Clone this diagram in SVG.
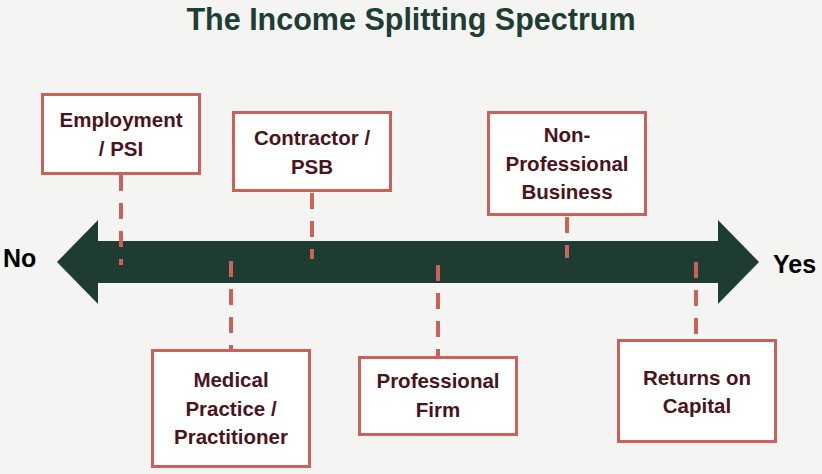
<svg xmlns="http://www.w3.org/2000/svg" width="822" height="474" viewBox="0 0 822 474">
<style>
.box{fill:#ffffff;stroke:#C8625A;stroke-width:3}
.lbl{font-family:"Liberation Sans",Arial,sans-serif;font-weight:bold;font-size:20.5px;fill:#4A141C;text-anchor:middle}
.conn{stroke:#C8625A;stroke-width:4;stroke-dasharray:16 12;fill:none}
.end{font-family:"Liberation Sans",Arial,sans-serif;font-weight:bold;font-size:25px;fill:#000000}
</style>
<rect x="0" y="0" width="822" height="474" fill="#F4F4F2"/>
<text x="411" y="30" text-anchor="middle" font-family="'Liberation Sans',Arial,sans-serif" font-weight="bold" font-size="30.5" fill="#1E3D33">The Income Splitting Spectrum</text>
<g id="spectrum-arrow">
<polygon points="57,262 98,220 98,241 718,241 718,220 759,262 718,304 718,283 98,283 98,304" fill="#1E3C31"/>
</g>
<text class="end" x="3" y="267">No</text>
<text class="end" x="773" y="273">Yes</text>
<g id="connectors">
<line class="conn" x1="121" y1="175" x2="121" y2="265"/>
<line class="conn" x1="312" y1="193" x2="312" y2="259"/>
<line class="conn" x1="567" y1="217" x2="567" y2="258"/>
<line class="conn" x1="231" y1="261" x2="231" y2="350"/>
<line class="conn" x1="438" y1="265" x2="438" y2="357"/>
<line class="conn" x1="696" y1="262" x2="696" y2="340"/>
</g>
<g id="employment-psi">
<rect class="box" x="42.5" y="94.5" width="157" height="79"/>
<text class="lbl" x="121" y="127">Employment</text>
<text class="lbl" x="121" y="156">/ PSI</text>
</g>
<g id="contractor-psb">
<rect class="box" x="233.5" y="112.5" width="157" height="78"/>
<text class="lbl" x="312" y="145">Contractor /</text>
<text class="lbl" x="312" y="174">PSB</text>
</g>
<g id="non-professional-business">
<rect class="box" x="488.5" y="112.5" width="157" height="102"/>
<text class="lbl" x="567" y="142">Non-</text>
<text class="lbl" x="567" y="171">Professional</text>
<text class="lbl" x="567" y="199">Business</text>
</g>
<g id="medical-practice">
<rect class="box" x="152.5" y="350.5" width="157" height="116"/>
<text class="lbl" x="231" y="387">Medical</text>
<text class="lbl" x="231" y="416">Practice /</text>
<text class="lbl" x="231" y="444">Practitioner</text>
</g>
<g id="professional-firm">
<rect class="box" x="359.5" y="357.5" width="157" height="77"/>
<text class="lbl" x="438" y="388">Professional</text>
<text class="lbl" x="438" y="417">Firm</text>
</g>
<g id="returns-on-capital">
<rect class="box" x="618.5" y="340.5" width="157" height="101"/>
<text class="lbl" x="697" y="385">Returns on</text>
<text class="lbl" x="697" y="413">Capital</text>
</g>
</svg>
